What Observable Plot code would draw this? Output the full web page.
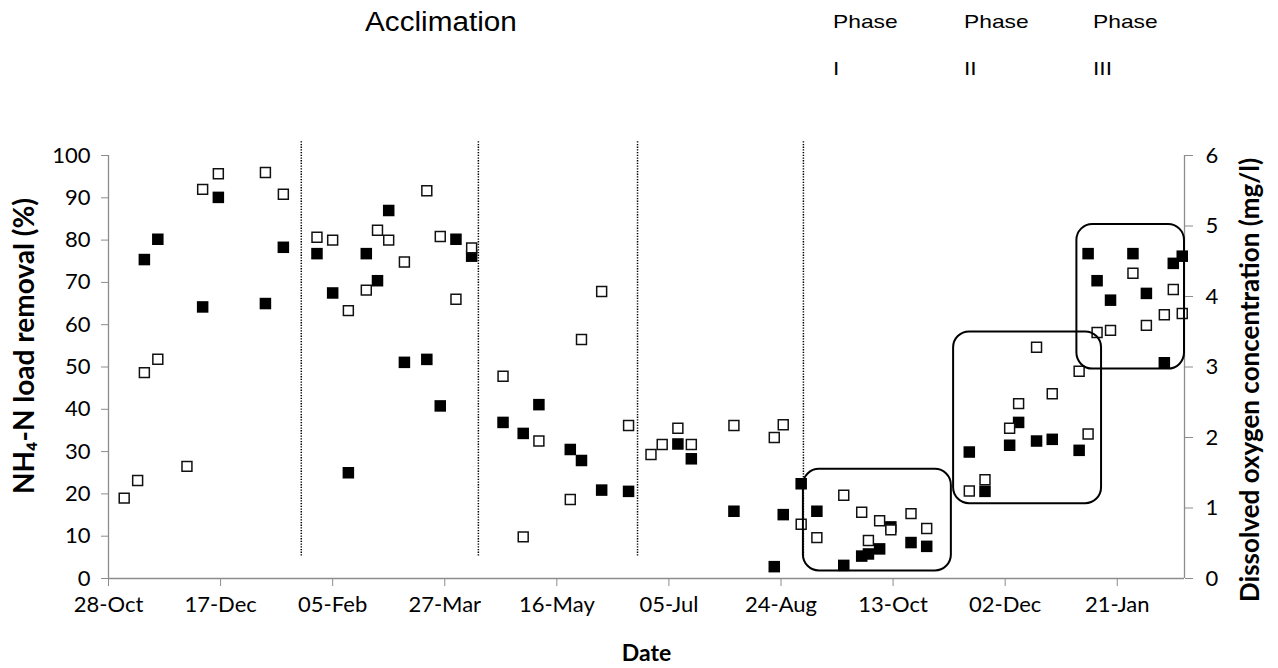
<!DOCTYPE html>
<html>
<head>
<meta charset="utf-8">
<script src="https://cdn.jsdelivr.net/npm/d3@7"></script>
<script src="https://cdn.jsdelivr.net/npm/@observablehq/plot@0.6"></script>
<style>
  body { margin: 0; background: #fff; }
  #wrap { position: relative; width: 1278px; height: 668px; overflow: hidden; }
  #header { position: relative; height: 100px; font-family: "Liberation Sans", Arial, sans-serif; color: #000; }
  .hd { position: absolute; line-height: 1; white-space: nowrap; transform-origin: left top; }
  .big { font-size: 27px; transform: scaleX(1.1); }
  .small { font-size: 19px; transform: scaleX(1.2); }
</style>
</head>
<body>
<div id="wrap">
  <div id="header">
    <div class="hd big" style="left:365px; top:9px;">Acclimation</div>
    <div class="hd small" style="left:833px; top:12px;">Phase</div>
    <div class="hd small" style="left:833px; top:59px;">I</div>
    <div class="hd small" style="left:964px; top:12px;">Phase</div>
    <div class="hd small" style="left:964px; top:59px;">II</div>
    <div class="hd small" style="left:1093px; top:12px;">Phase</div>
    <div class="hd small" style="left:1093px; top:59px;">III</div>
  </div>
  <div id="chart"></div>
</div>
<script>
// Sampling dates
const sampleDates = [
  "2010-11-04","2010-11-10","2010-11-13","2010-11-19","2010-12-02","2010-12-09","2010-12-16",
  "2011-01-06","2011-01-14","2011-01-29","2011-02-05","2011-02-12","2011-02-20","2011-02-25",
  "2011-03-02","2011-03-09","2011-03-19","2011-03-25","2011-04-01","2011-04-08","2011-04-22",
  "2011-05-01","2011-05-08","2011-05-22","2011-05-27","2011-06-05","2011-06-17","2011-06-27",
  "2011-07-02","2011-07-09","2011-07-15","2011-08-03","2011-08-21","2011-08-25","2011-09-02",
  "2011-09-09","2011-09-21","2011-09-29","2011-10-02","2011-10-07","2011-10-12","2011-10-21",
  "2011-10-28","2011-11-16","2011-11-23","2011-12-04","2011-12-08","2011-12-16","2011-12-23",
  "2012-01-04","2012-01-08","2012-01-12","2012-01-18","2012-01-28","2012-02-03","2012-02-11",
  "2012-02-15","2012-02-19"
];

// NH4-N load removal (%), filled squares (left axis)
const nh4Removal = [
  null, null, 75.4, 80.2, null, 64.2, 90.1,
  65.0, 78.3, 76.8, 67.5, 25.0, 76.8, 70.4,
  87.0, 51.1, 51.8, 40.8, 80.2, 76.2, 36.9,
  34.3, 41.1, 30.5, 27.9, 20.9, 20.6, null,
  null, 31.8, 28.3, 15.9, 2.8, 15.1, 22.4,
  15.9, 3.1, 5.3, 5.8, 7.0, 12.2, 8.5,
  7.6, 29.9, 20.6, 31.5, 36.9, 32.5, 32.9,
  30.3, 76.8, 70.4, 65.8, 76.8, 67.4, 51.0,
  74.5, 76.2
];

// Dissolved oxygen concentration (mg/l), open squares (right axis)
const dissolvedOxygen = [
  1.14, 1.39, 2.92, 3.11, 1.59, 5.52, 5.74,
  5.76, 5.45, 4.84, 4.80, 3.80, 4.09, 4.94,
  4.80, 4.49, 5.50, 4.85, 3.96, 4.69, 2.87,
  0.59, 1.95, 1.12, 3.39, 4.07, 2.17, 1.76,
  1.90, 2.13, 1.90, 2.17, 2.00, 2.18, 0.77,
  0.58, 1.18, 0.94, 0.54, 0.82, 0.69, 0.92,
  0.71, 1.24, 1.40, 2.13, 2.48, 3.28, 2.62,
  2.94, 2.05, 3.49, 3.52, 4.33, 3.59, 3.74,
  4.10, 3.76
];

// Date axis ticks (every 50 days)
const dateTicks = [
  "2010-10-28","2010-12-17","2011-02-05","2011-03-27","2011-05-16",
  "2011-07-05","2011-08-24","2011-10-13","2011-12-02","2012-01-21"
];
const dateDomain = ["2010-10-28", "2012-02-20"];

const removalTicks = [0, 10, 20, 30, 40, 50, 60, 70, 80, 90, 100];
const oxygenTicks = [0, 1, 2, 3, 4, 5, 6];

// Dotted separators between experimental periods
const periodBoundaries = ["2011-01-22", "2011-04-11", "2011-06-21", "2011-09-03"];

// Rounded frames grouping Phase I, II, III
const phaseFrames = [
  {start: "2011-09-03", end: "2011-11-08", low: 1.8, high: 25.8},
  {start: "2011-11-09", end: "2012-01-14", low: 17.7, high: 58.3},
  {start: "2012-01-03", end: "2012-02-20", low: 49.5, high: 83.7}
];

const parse = d3.utcParse("%Y-%m-%d");
const pctPerMg = 100 / 6; // right axis 0–6 mg/l mapped onto 0–100 %

const rows = sampleDates.map((d, i) => ({
  date: parse(d),
  removal: nh4Removal[i],
  oxygen: dissolvedOxygen[i]
}));

const axisGray = "#8c8c8c";
const tickFont = 22;
const x0 = parse(dateDomain[0]), x1 = parse(dateDomain[1]);

const chart = Plot.plot({
  width: 1278,
  height: 568,
  marginTop: 55,
  marginBottom: 90,
  marginLeft: 108,
  marginRight: 94,
  style: {fontFamily: "Lato, 'Open Sans', sans-serif", fontSize: "22px", color: "#000", background: "#fff", overflow: "visible"},
  x: {type: "utc", domain: [x0, x1]},
  y: {domain: [0, 100]},
  marks: [
    // axis lines
    Plot.ruleY([0], {stroke: axisGray, strokeWidth: 1.3}),
    Plot.ruleX([x0, x1], {stroke: axisGray, strokeWidth: 1.3}),
    Plot.axisX({
      ticks: dateTicks.map(parse),
      tickFormat: d3.utcFormat("%d-%b"),
      tickSize: 8, tickPadding: 10, fontSize: tickFont,
      stroke: axisGray, fill: "#000", label: null
    }),
    Plot.axisY({
      anchor: "left", ticks: removalTicks,
      tickSize: 7, tickPadding: 11, fontSize: tickFont,
      stroke: axisGray, fill: "#000", label: null
    }),
    Plot.axisY({
      anchor: "right", ticks: oxygenTicks.map(v => v * pctPerMg),
      tickFormat: d => String(Math.round(d / pctPerMg)),
      tickSize: 8, tickPadding: 13, fontSize: tickFont,
      stroke: axisGray, fill: "#000", label: null
    }),
    // axis titles
    Plot.text(["NH\u2084-N load removal (%)"], {
      frameAnchor: "left", dx: -83, dy: -21, rotate: -90,
      textAnchor: "middle", lineAnchor: "middle", fontWeight: "bold", fontSize: 28
    }),
    Plot.text(["Dissolved oxygen concentration (mg/l)"], {
      frameAnchor: "right", dx: 66, dy: 13, rotate: -90,
      textAnchor: "middle", lineAnchor: "middle", fontWeight: "bold", fontSize: 26
    }),
    Plot.text(["Date"], {
      frameAnchor: "bottom", dy: 75,
      textAnchor: "middle", lineAnchor: "middle", fontWeight: "bold", fontSize: 23
    }),
    // period separators
    Plot.ruleX(periodBoundaries, {
      x: d => parse(d), y1: 5.3, y2: 103.4,
      stroke: "#000", strokeWidth: 1.5, strokeDasharray: "1.3 1.4"
    }),
    // NH4-N removal
    Plot.dot(rows.filter(d => d.removal != null), {
      x: "date", y: "removal", symbol: "square", r: 6.5, fill: "#000"
    }),
    // dissolved oxygen
    Plot.dot(rows.filter(d => d.oxygen != null), {
      x: "date", y: d => d.oxygen * pctPerMg, symbol: "square", r: 5.6,
      fill: "#fff", stroke: "#111", strokeWidth: 1.5
    }),
    // phase frames
    Plot.rect(phaseFrames, {
      x1: d => parse(d.start), x2: d => parse(d.end), y1: "low", y2: "high",
      rx: 16, fill: "none", stroke: "#000", strokeWidth: 2
    })
  ]
});

document.getElementById("chart").appendChild(chart);
</script>
</body>
</html>
